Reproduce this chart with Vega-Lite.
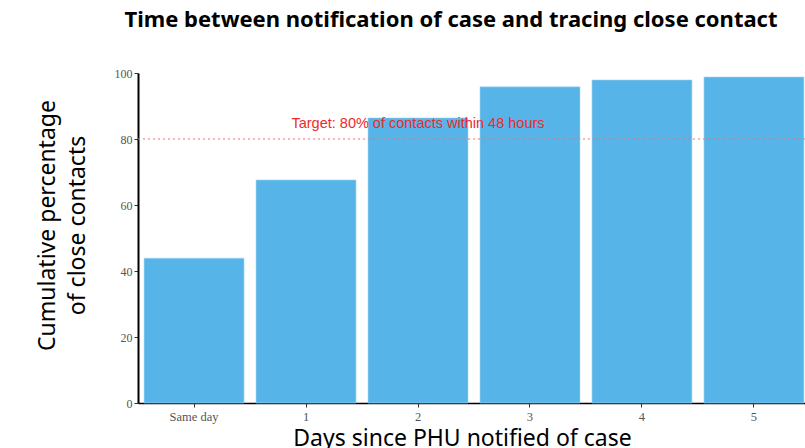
{
  "$schema": "https://vega.github.io/schema/vega-lite/v6.json",
  "autosize": "none",
  "width": 672,
  "height": 330,
  "padding": {"left": 138, "top": 73, "right": 0, "bottom": 45},
  "background": "white",
  "title": {
    "text": "Time between notification of case and tracing close contact",
    "font": "Noto Sans",
    "fontSize": 22,
    "fontWeight": "bold",
    "color": "black",
    "anchor": "middle",
    "frame": "group",
    "baseline": "alphabetic",
    "offset": 18,
    "dx": -23
  },
  "config": {
    "view": {"stroke": null}
  },
  "datasets": {
    "bars": [
      {"day": "Same day", "pct": 43.9},
      {"day": "1", "pct": 67.6},
      {"day": "2", "pct": 86.4},
      {"day": "3", "pct": 95.8},
      {"day": "4", "pct": 97.9},
      {"day": "5", "pct": 98.8}
    ],
    "target": [
      {"day": "2", "value": 80, "label": "Target: 80% of contacts within 48 hours"}
    ]
  },
  "layer": [
    {
      "data": {"name": "bars"},
      "mark": {"type": "bar", "color": "#56B4E9", "stroke": "#a8d8f4", "strokeWidth": 0.6},
      "encoding": {
        "x": {
          "field": "day",
          "type": "nominal",
          "sort": ["Same day", "1", "2", "3", "4", "5"],
          "scale": {"paddingInner": 0.107, "paddingOuter": 0.054},
          "axis": {
            "title": "Days since PHU notified of case",
            "titleFont": "Noto Sans",
            "titleFontSize": 23,
            "titleFontWeight": "normal",
            "titleColor": "black",
            "titleX": 324,
            "titleY": 35,
            "titleBaseline": "middle",
            "labelFont": "Liberation Serif",
            "labelFontSize": 12.5,
            "labelColor": "#555555",
            "labelAngle": 0,
            "labelPadding": 3,
            "domainColor": "black",
            "domainWidth": 1.5,
            "tickColor": "#333333",
            "tickSize": 4,
            "tickWidth": 1
          }
        },
        "y": {
          "field": "pct",
          "type": "quantitative",
          "scale": {"domain": [0, 100], "nice": false},
          "axis": {
            "title": ["Cumulative percentage", "of close contacts"],
            "titleFont": "Noto Sans",
            "titleFontSize": 23,
            "titleFontWeight": "normal",
            "titleColor": "black",
            "titleX": -91,
            "titleY": 152,
            "titleAngle": -90,
            "titleBaseline": "middle",
            "titleAlign": "center",
            "titleLineHeight": 30,
            "values": [0, 20, 40, 60, 80, 100],
            "grid": false,
            "labelFont": "Liberation Serif",
            "labelFontSize": 12,
            "labelColor": "#555555",
            "labelPadding": 2,
            "domainColor": "black",
            "domainWidth": 2,
            "tickColor": "#333333",
            "tickSize": 4,
            "tickWidth": 1
          }
        }
      }
    },
    {
      "data": {"name": "target"},
      "mark": {"type": "rule", "color": "#f07070", "strokeDash": [2, 3], "strokeWidth": 1.2},
      "encoding": {
        "y": {"field": "value", "type": "quantitative"}
      }
    },
    {
      "data": {"name": "target"},
      "mark": {"type": "text", "color": "#ee2a2a", "font": "Liberation Sans", "fontSize": 14.5, "dy": -15, "align": "center", "baseline": "middle"},
      "encoding": {
        "x": {"field": "day", "type": "nominal", "sort": ["Same day", "1", "2", "3", "4", "5"]},
        "y": {"field": "value", "type": "quantitative"},
        "text": {"field": "label"}
      }
    }
  ]
}
